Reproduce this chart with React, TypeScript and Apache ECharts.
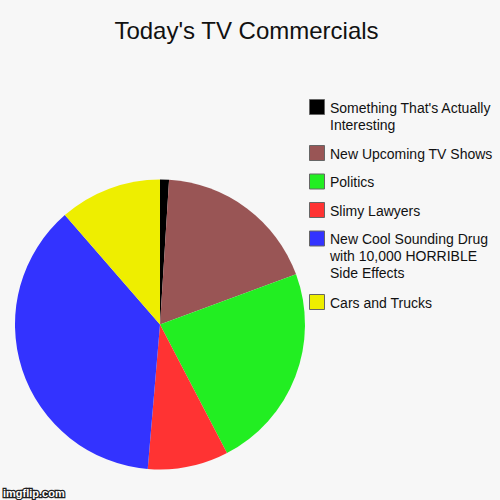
import { useEffect, useRef } from 'react';
import * as echarts from 'echarts';

const title = "Today's TV Commercials";
// order: clockwise from 12 o'clock, same as legend top to bottom
const categories = [
  "Something That's Actually\nInteresting",
  'New Upcoming TV Shows',
  'Politics',
  'Slimy Lawyers',
  'New Cool Sounding Drug\nwith 10,000 HORRIBLE\nSide Effects',
  'Cars and Trucks',
];
const values = [1, 18.4, 23, 9, 37.3, 11.4];
const colors = ['#000000', '#995555', '#22ee22', '#ff3333', '#3333ff', '#eeee00'];

const FONT = '"Liberation Sans", Arial, sans-serif';

export default function App() {
  const chartRef = useRef<HTMLDivElement>(null);

  useEffect(() => {
    if (!chartRef.current) return;
    const chart = echarts.init(chartRef.current, undefined, { renderer: 'svg' });

    // legend drawn by hand so the box sits on the first text line
    const legendItems: any[] = [];
    let y = 99;
    categories.forEach((name, i) => {
      const lines = name.split('\n').length;
      legendItems.push({
        type: 'rect',
        shape: { x: 309.5, y: y + 0.5, width: 15, height: 15 },
        style: { fill: colors[i], stroke: '#666', lineWidth: 1 },
      });
      legendItems.push({
        type: 'text',
        x: 330,
        y: y + 0.5,
        style: {
          text: name,
          font: `14px ${FONT}`,
          fill: '#111',
          lineHeight: 16.7,
          verticalAlign: 'top',
        },
      });
      y += 28.5 + (lines - 1) * 17.5;
    });

    chart.setOption({
      animation: false,
      backgroundColor: '#f7f7f7',
      series: [
        {
          type: 'pie',
          center: [160, 324.5],
          radius: 145,
          startAngle: 90,
          clockwise: true,
          label: { show: false },
          labelLine: { show: false },
          emphasis: { disabled: true },
          itemStyle: { borderWidth: 0 },
          data: categories.map((name, i) => ({
            name,
            value: values[i],
            itemStyle: { color: colors[i] },
          })),
        },
      ],
      graphic: [
        {
          type: 'text',
          x: 246.5,
          y: 30,
          style: {
            text: title,
            font: `24px ${FONT}`,
            fill: '#111',
            align: 'center',
            verticalAlign: 'middle',
          },
        },
        ...legendItems,
        {
          type: 'text',
          x: 3,
          y: 493,
          style: {
            text: 'imgflip.com',
            font: `bold 11px ${FONT}`,
            fill: '#fff',
            stroke: '#222',
            lineWidth: 2.5,
            verticalAlign: 'middle',
          },
        },
      ],
    });

    return () => chart.dispose();
  }, []);

  return (
    <div
      ref={chartRef}
      style={{ position: 'fixed', left: 0, top: 0, width: 500, height: 500 }}
    />
  );
}
